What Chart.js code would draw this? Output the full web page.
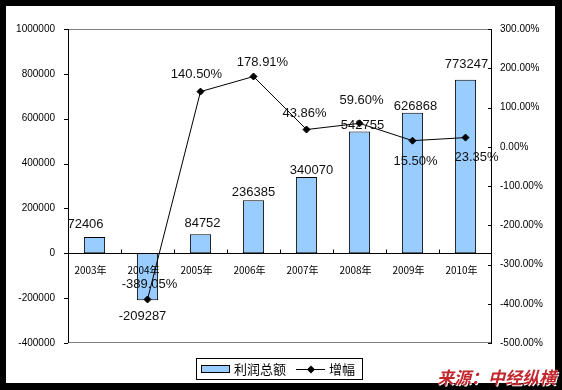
<!DOCTYPE html>
<html>
<head>
<meta charset="utf-8">
<script src="https://cdn.jsdelivr.net/npm/chart.js@4"></script>
<style>
  html, body { margin: 0; padding: 0; background: #000; }
  #wrap { width: 562px; height: 390px; position: relative; }
</style>
</head>
<body>
<div id="wrap"><canvas id="chart"></canvas></div>
<script>
// --- data ---
const years = ['2003年', '2004年', '2005年', '2006年', '2007年', '2008年', '2009年', '2010年'];
const profit = [72406, -209287, 84752, 236385, 340070, 542755, 626868, 773247];
const growth = [null, -389.05, 140.50, 178.91, 43.86, 59.60, 15.50, 23.35];
const leftTicks = [1000000, 800000, 600000, 400000, 200000, 0, -200000, -400000];
const rightTicks = [300, 200, 100, 0, -100, -200, -300, -400, -500];
const barName = '利润总额';
const lineName = '增幅';
const sourceText = '来源：中经纵横';

const numFont = 'Arial, "Liberation Sans", sans-serif';
const cjkFont = '"Noto Sans CJK SC", sans-serif';

// label nudges (dx, dy from the bar end / point), just to sit where the original has them
const barLabelShift = [[-9, -13], [-5, 16], [2, -11], [0, -8], [5, -7], [3, -6], [3, -6], [1, -15]];
const pctLabelShift = [null, [2, -15], [-4, -17], [9, -14], [-2, -16], [2, -23], [3, 21], [11, 20]];

// background, frame, ticks, labels, legend and the source note
const decorPlugin = {
  id: 'decor',
  beforeDraw(chart) {
    const ctx = chart.ctx;
    ctx.save();
    ctx.fillStyle = '#000';
    ctx.fillRect(0, 0, chart.width, chart.height);
    ctx.fillStyle = '#fff';
    ctx.fillRect(6, 6, 549, 377);
    ctx.restore();
  },
  beforeDatasetsDraw(chart) {
    const ctx = chart.ctx;
    const a = chart.chartArea;
    const y = chart.scales.y;
    const y1 = chart.scales.y1;
    ctx.save();

    // grey top and bottom edges of the plot
    ctx.strokeStyle = '#808080';
    ctx.lineWidth = 1;
    ctx.beginPath();
    ctx.moveTo(a.left, a.top + 0.5); ctx.lineTo(a.right, a.top + 0.5);
    ctx.moveTo(a.left, a.bottom - 0.5); ctx.lineTo(a.right, a.bottom - 0.5);
    ctx.stroke();

    // black axis lines
    ctx.strokeStyle = '#000';
    ctx.beginPath();
    ctx.moveTo(a.left + 0.5, a.top); ctx.lineTo(a.left + 0.5, a.bottom);
    ctx.moveTo(a.right - 0.5, a.top); ctx.lineTo(a.right - 0.5, a.bottom);
    const zeroY = Math.round(y.getPixelForValue(0)) + 0.5;
    ctx.moveTo(a.left, zeroY); ctx.lineTo(a.right, zeroY);
    // category ticks go up from the zero line, between categories
    const step = (a.right - a.left) / years.length;
    for (let i = 1; i < years.length; i++) {
      const tx = Math.round(a.left + step * i) + 0.5;
      ctx.moveTo(tx, zeroY - 4); ctx.lineTo(tx, zeroY);
    }
    // left ticks outward, right ticks inward
    leftTicks.forEach(v => {
      const ty = Math.round(y.getPixelForValue(v)) + 0.5;
      ctx.moveTo(a.left - 4, ty); ctx.lineTo(a.left, ty);
    });
    rightTicks.forEach(v => {
      const ty = Math.round(y1.getPixelForValue(v)) + 0.5;
      ctx.moveTo(a.right - 4, ty); ctx.lineTo(a.right, ty);
    });
    ctx.stroke();
    ctx.restore();
  },
  afterDraw(chart) {
    const ctx = chart.ctx;
    const x = chart.scales.x;
    const y = chart.scales.y;
    ctx.save();
    ctx.textAlign = 'center';
    ctx.textBaseline = 'middle';

    // category names under the zero line (drawn over the bars)
    const zeroY = Math.round(y.getPixelForValue(0));
    ctx.fillStyle = '#000';
    ctx.font = '10px ' + cjkFont;
    years.forEach((name, i) => {
      ctx.fillText(name, x.getPixelForValue(i) - 4, zeroY + 17);
    });

    ctx.fillStyle = '#111';
    ctx.font = '13px ' + numFont;
    // bar value labels (bars are dataset 1)
    chart.getDatasetMeta(1).data.forEach((bar, i) => {
      const s = barLabelShift[i];
      ctx.fillText(String(profit[i]), bar.x + s[0], bar.y + s[1]);
    });
    // growth labels (line is dataset 0)
    chart.getDatasetMeta(0).data.forEach((pt, i) => {
      if (growth[i] === null) return;
      const s = pctLabelShift[i];
      ctx.fillText(growth[i].toFixed(2) + '%', pt.x + s[0], pt.y + s[1]);
    });

    // legend box
    const lx = 196, ly = 358;
    ctx.strokeStyle = '#000';
    ctx.lineWidth = 1;
    ctx.fillStyle = '#fff';
    ctx.fillRect(lx, ly, 166, 21);
    ctx.strokeRect(lx + 0.5, ly + 0.5, 166, 21);
    ctx.fillStyle = '#99ccff';
    ctx.fillRect(lx + 5.5, ly + 7.5, 28, 7);
    ctx.strokeRect(lx + 5.5, ly + 7.5, 28, 7);
    ctx.fillStyle = '#000';
    ctx.font = '13px ' + cjkFont;
    ctx.textAlign = 'left';
    ctx.fillText(barName, lx + 38, ly + 11);
    ctx.beginPath();
    ctx.moveTo(lx + 100, ly + 11.5); ctx.lineTo(lx + 129, ly + 11.5);
    ctx.stroke();
    ctx.beginPath();
    ctx.moveTo(lx + 115, ly + 7.5); ctx.lineTo(lx + 119, ly + 11.5);
    ctx.lineTo(lx + 115, ly + 15.5); ctx.lineTo(lx + 111, ly + 11.5);
    ctx.closePath();
    ctx.fill();
    ctx.fillText(lineName, lx + 133, ly + 11);

    // source note, bottom right
    ctx.font = 'italic bold 17px ' + cjkFont;
    ctx.textAlign = 'right';
    ctx.textBaseline = 'alphabetic';
    ctx.fillStyle = '#fff';
    ctx.fillText(sourceText, 557, 385);
    ctx.fillStyle = '#c1272d';
    ctx.fillText(sourceText, 556, 384);
    ctx.restore();
  }
};

new Chart(document.getElementById('chart'), {
  data: {
    labels: years,
    datasets: [
      {
        type: 'line',
        label: lineName,
        data: growth,
        yAxisID: 'y1',
        borderColor: '#000',
        backgroundColor: '#000',
        borderWidth: 1,
        pointStyle: 'rectRot',
        pointRadius: 3.5,
        pointBackgroundColor: '#000',
        pointBorderColor: '#000',
        tension: 0,
        order: 0
      },
      {
        type: 'bar',
        label: barName,
        data: profit,
        yAxisID: 'y',
        backgroundColor: '#99ccff',
        borderColor: '#000',
        borderWidth: 1,
        borderSkipped: false,
        barPercentage: 0.4,
        categoryPercentage: 1,
        order: 1
      }
    ]
  },
  options: {
    responsive: true,
    maintainAspectRatio: false,
    animation: false,
    layout: { padding: { top: 29, bottom: 47, left: 0, right: 0 } },
    plugins: { legend: { display: false }, tooltip: { enabled: false } },
    scales: {
      x: {
        display: false,
        offset: true
      },
      y: {
        position: 'left',
        min: -400000,
        max: 1000000,
        afterFit(s) { s.width = 68; },
        afterBuildTicks(s) { s.ticks = leftTicks.map(v => ({ value: v })); },
        grid: { display: false },
        border: { display: false },
        ticks: {
          color: '#000',
          font: { size: 10, family: numFont },
          padding: 5,
          callback: v => String(v)
        }
      },
      y1: {
        position: 'right',
        min: -500,
        max: 300,
        afterFit(s) { s.width = 70; },
        afterBuildTicks(s) { s.ticks = rightTicks.map(v => ({ value: v })); },
        grid: { display: false },
        border: { display: false },
        ticks: {
          color: '#000',
          font: { size: 10, family: numFont },
          padding: 0,
          callback: v => v.toFixed(2) + '%'
        }
      }
    }
  },
  plugins: [decorPlugin]
});
</script>
</body>
</html>
